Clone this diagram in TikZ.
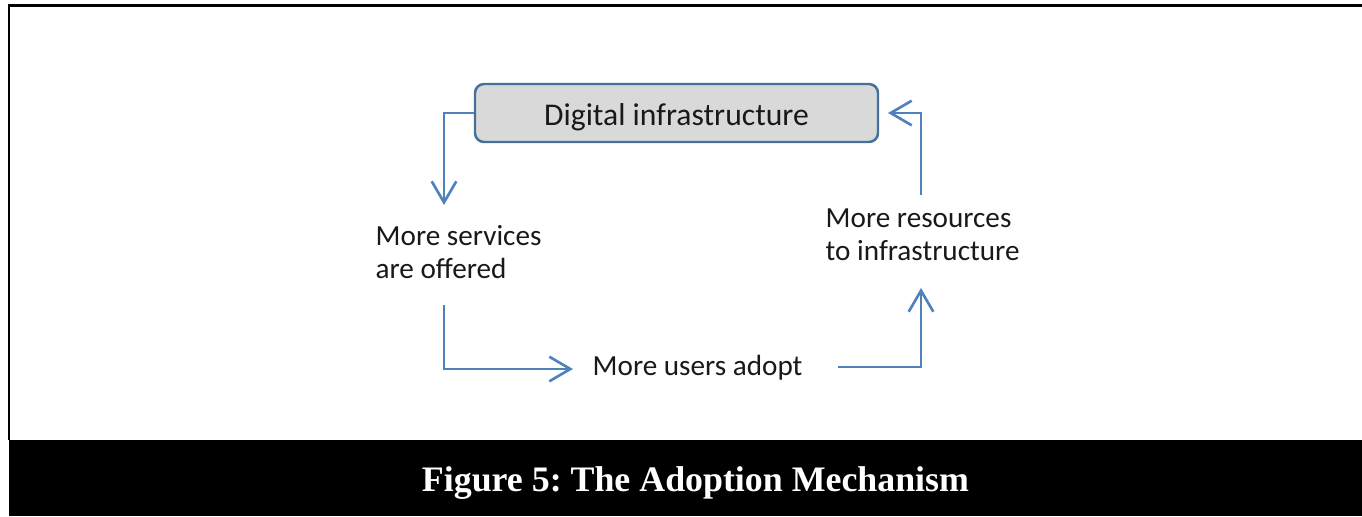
\documentclass[tikz,border=0pt]{standalone}
\usepackage{fontspec}
\setmainfont{Carlito}
\newfontfamily\captionfont{Liberation Serif}
\usetikzlibrary{arrows.meta}

\definecolor{flowblue}{HTML}{4F81BD}
\definecolor{boxedge}{HTML}{41719C}
\definecolor{boxfill}{HTML}{D9D9D9}

\frenchspacing

\begin{document}
\begin{tikzpicture}[x=0.1mm, y=-0.1mm,
    flow/.style={draw=flowblue, line width=0.75pt,
        -{Straight Barb[length=6pt, width=7pt, line width=0.75pt]}},
    steptext/.style={inner sep=0pt, align=left, text=black!90,
        font=\fontsize{8.3}{9.4}\selectfont},
    infrabox/.style={draw=boxedge, fill=boxfill, line width=0.7pt,
        rounded corners=0.9mm, minimum width=40.3mm, minimum height=5.8mm,
        inner sep=0pt, text height=7.2pt, text depth=0pt, text=black!90,
        font=\fontsize{9}{10}\selectfont}]

    % Page, frame and caption band
    \useasboundingbox (0,0) rectangle (1362,516);
    \fill[white] (0,0) rectangle (1362,516);
    \draw[line width=0.6pt] (9,440) -- (9,5.5) -- (1362,5.5);
    \fill[black] (9,440) rectangle (1362,516);

    % Steps of the loop
    \node[infrabox] (infra) at (676.5,113) {Digital infrastructure};
    \node[steptext, anchor=west] (services) at (375,252) {More services\\are offered};
    \node[steptext, anchor=base west] (users) at (592,375) {More users adopt};
    \node[steptext, anchor=west] (resources) at (825,235) {More resources\\to infrastructure};

    % Free ends of the connectors
    \coordinate (servicesIn) at (444,205);
    \coordinate (servicesOut) at (444,305);
    \coordinate (usersIn) at (573,369);
    \coordinate (usersOut) at (838,367);
    \coordinate (resourcesIn) at (921,288);
    \coordinate (resourcesOut) at (921,195);
    \coordinate (infraIn) at (888,113);

    % Connectors
    \draw[flow] (infra.west) -| (servicesIn);
    \draw[flow] (servicesOut) |- (usersIn);
    \draw[flow] (usersOut) -| (resourcesIn);
    \draw[flow] (resourcesOut) |- (infraIn);

    % Caption
    \node[text=white, anchor=base, font=\captionfont\bfseries\fontsize{10.2}{12}\selectfont]
        (caption) at (695.5,491) {Figure 5: The Adoption Mechanism};

\end{tikzpicture}
\end{document}
